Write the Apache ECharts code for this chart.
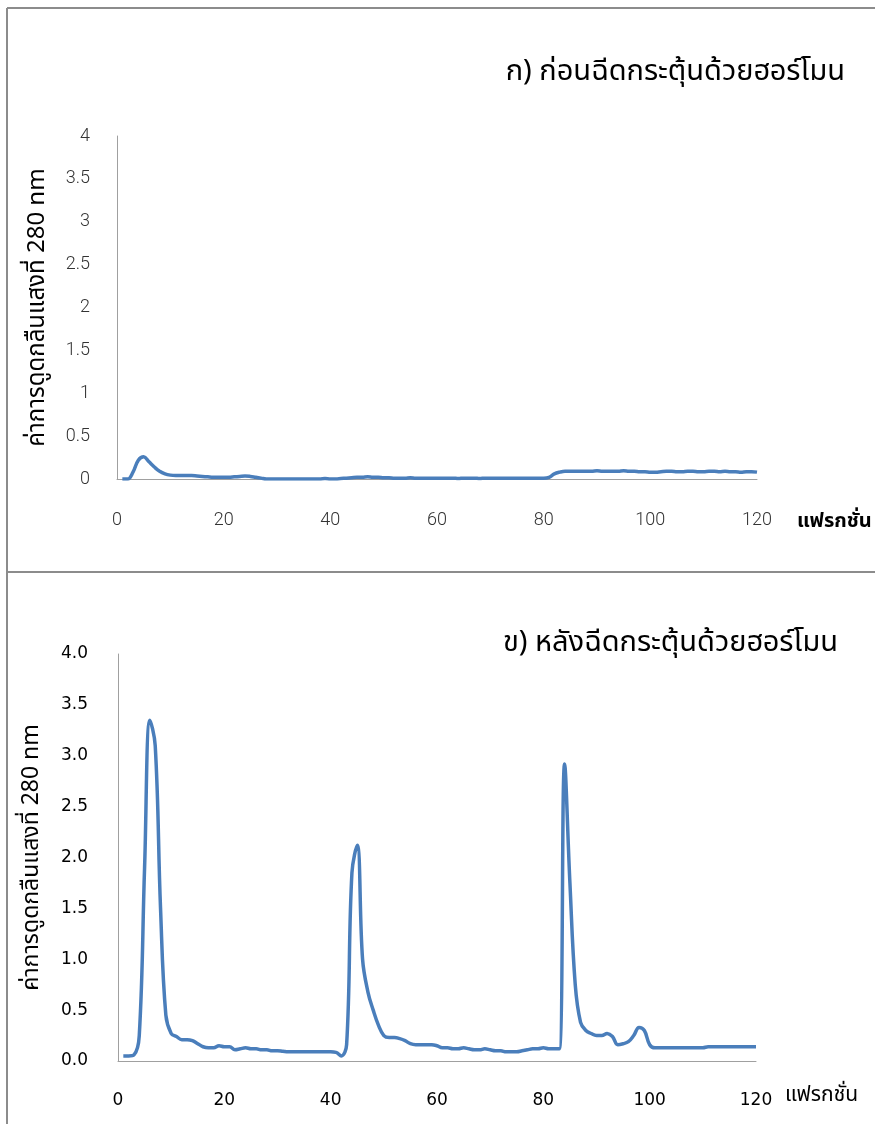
<!DOCTYPE html>
<html>
<head>
<meta charset="utf-8">
<script src="https://cdn.jsdelivr.net/npm/echarts@6/dist/echarts.min.js"></script>
<style>
html,body{margin:0;padding:0;background:#fff;}
#c{width:875px;height:1124px;}
</style>
</head>
<body>
<div id="c"></div>
<script>
// Fraction numbers (x)
const fractions = Array.from({length:120}, (_, i) => i + 1);

// Panel A: before hormone injection (absorbance at 280 nm)
const beforeValues = [
  0.00,0.00,0.08,0.22,0.26,0.20,0.14,0.09,0.06,0.045,
  0.04,0.04,0.04,0.04,0.035,0.03,0.025,0.02,0.02,0.02,
  0.02,0.025,0.03,0.035,0.03,0.02,0.01,0.00,0.00,0.00,
  0.00,0.00,0.00,0.00,0.00,0.00,0.00,0.00,0.005,0.00,
  0.00,0.005,0.01,0.015,0.02,0.02,0.025,0.02,0.02,0.015,
  0.015,0.01,0.01,0.01,0.015,0.01,0.01,0.01,0.01,0.01,
  0.01,0.01,0.01,0.005,0.01,0.01,0.01,0.005,0.01,0.01,
  0.01,0.01,0.01,0.01,0.01,0.01,0.01,0.01,0.01,0.01,
  0.02,0.06,0.08,0.09,0.09,0.09,0.09,0.09,0.09,0.095,
  0.09,0.09,0.09,0.09,0.095,0.09,0.09,0.085,0.085,0.08,
  0.08,0.085,0.09,0.09,0.085,0.085,0.09,0.09,0.085,0.085,
  0.09,0.09,0.085,0.09,0.085,0.085,0.08,0.085,0.085,0.08
];

// Panel B: after hormone injection (absorbance at 280 nm)
const afterValues = [
  0.05,0.05,0.06,0.25,1.90,3.35,3.10,1.50,0.45,0.27,
  0.24,0.21,0.21,0.20,0.17,0.14,0.13,0.13,0.15,0.14,
  0.14,0.11,0.12,0.13,0.12,0.12,0.11,0.11,0.10,0.10,
  0.095,0.09,0.09,0.09,0.09,0.09,0.09,0.09,0.09,0.09,
  0.085,0.05,0.16,1.85,2.12,1.00,0.68,0.50,0.35,0.25,
  0.23,0.23,0.22,0.20,0.17,0.16,0.16,0.16,0.16,0.15,
  0.13,0.13,0.12,0.12,0.13,0.12,0.11,0.11,0.12,0.11,
  0.10,0.10,0.09,0.09,0.09,0.10,0.11,0.12,0.12,0.13,
  0.12,0.12,0.12,2.92,1.75,0.75,0.38,0.30,0.27,0.25,
  0.25,0.27,0.24,0.16,0.17,0.19,0.25,0.33,0.30,0.16,
  0.13,0.13,0.13,0.13,0.13,0.13,0.13,0.13,0.13,0.13,
  0.14,0.14,0.14,0.14,0.14,0.14,0.14,0.14,0.14,0.14
];

const xTicks = [0,20,40,60,80,100,120];
const titleA = 'ก) ก่อนฉีดกระตุ้นด้วยฮอร์โมน';
const titleB = 'ข) หลังฉีดกระตุ้นด้วยฮอร์โมน';
const yTitle = 'ค่าการดูดกลืนแสงที่ 280 nm';
const xTitle = 'แฟรกชั่น';

const thaiFont = '"Noto Sans Thai", "Noto Sans", "DejaVu Sans", sans-serif';
const thin = 'Roboto, "Liberation Sans", sans-serif';
const lineColor = '#4a7ebb';
const axisGray = '#a0a0a0';

const chart = echarts.init(document.getElementById('c'), null, {renderer:'canvas'});
const pairs = vals => fractions.map((f, i) => [f, vals[i]]);

chart.setOption({
  animation: false,
  backgroundColor: '#fff',
  title: [
    {text: titleA, right: 25, top: 55, textStyle:{fontFamily: thaiFont, fontSize: 29, fontWeight: 'normal', color:'#000'}},
    {text: titleB, right: 32, top: 626, textStyle:{fontFamily: thaiFont, fontSize: 29, fontWeight: 'normal', color:'#000'}}
  ],
  grid: [
    {left: 117, right: 118, top: 136, height: 343},
    {left: 118, right: 119, top: 654, height: 407}
  ],
  xAxis: [
    {gridIndex:0, type:'value', min:0, max:120, interval:20,
     axisLine:{show:true, onZero:false, lineStyle:{color:axisGray, width:1}},
     axisTick:{show:false}, splitLine:{show:false},
     axisLabel:{margin:32, fontFamily:thin, fontWeight:300, fontSize:18, color:'#333'}},
    {gridIndex:1, type:'value', min:0, max:120, interval:20,
     axisLine:{show:true, onZero:false, lineStyle:{color:axisGray, width:1}},
     axisTick:{show:false}, splitLine:{show:false},
     axisLabel:{margin:31, fontFamily:'"DejaVu Sans", sans-serif', fontSize:17, color:'#000'}}
  ],
  yAxis: [
    {gridIndex:0, type:'value', min:0, max:4, interval:0.5,
     axisLine:{show:true, lineStyle:{color:axisGray, width:1}},
     axisTick:{show:false}, splitLine:{show:false},
     axisLabel:{margin:27, fontFamily:thin, fontWeight:300, fontSize:18, color:'#333', formatter: v => String(v)},
     name: yTitle, nameLocation:'middle', nameGap:66,
     nameTextStyle:{fontFamily: thaiFont, fontSize:24, fontWeight:'normal', color:'#000'}},
    {gridIndex:1, type:'value', min:0, max:4, interval:0.5,
     axisLine:{show:true, lineStyle:{color:axisGray, width:1}},
     axisTick:{show:false}, splitLine:{show:false},
     axisLabel:{margin:30, fontFamily:'"DejaVu Sans", sans-serif', fontSize:17, color:'#000', formatter: v => v.toFixed(1)},
     name: yTitle, nameLocation:'middle', nameGap:73,
     nameTextStyle:{fontFamily: thaiFont, fontSize:23, fontWeight:'normal', color:'#000'}}
  ],
  graphic: [
    {type:'line', shape:{x1:7, y1:8, x2:875, y2:8}, style:{stroke:'#8c8c8c', lineWidth:2}, silent:true},
    {type:'line', shape:{x1:7, y1:8, x2:7, y2:1124}, style:{stroke:'#8c8c8c', lineWidth:2}, silent:true},
    {type:'line', shape:{x1:7, y1:572, x2:875, y2:572}, style:{stroke:'#8c8c8c', lineWidth:2}, silent:true},
    {type:'text', left:797, top:513, style:{text:xTitle, font:'bold 20px ' + thaiFont, fill:'#000'}},
    {type:'text', left:785, top:1086, style:{text:xTitle, font:'21px ' + thaiFont, fill:'#000'}}
  ],
  series: [
    {type:'line', xAxisIndex:0, yAxisIndex:0, data: pairs(beforeValues), smooth:0.4, showSymbol:false,
     lineStyle:{color:lineColor, width:3.5}, itemStyle:{color:lineColor}},
    {type:'line', xAxisIndex:1, yAxisIndex:1, data: pairs(afterValues), smooth:0.4, showSymbol:false,
     lineStyle:{color:lineColor, width:3.5}, itemStyle:{color:lineColor}}
  ]
});
</script>
</body>
</html>
